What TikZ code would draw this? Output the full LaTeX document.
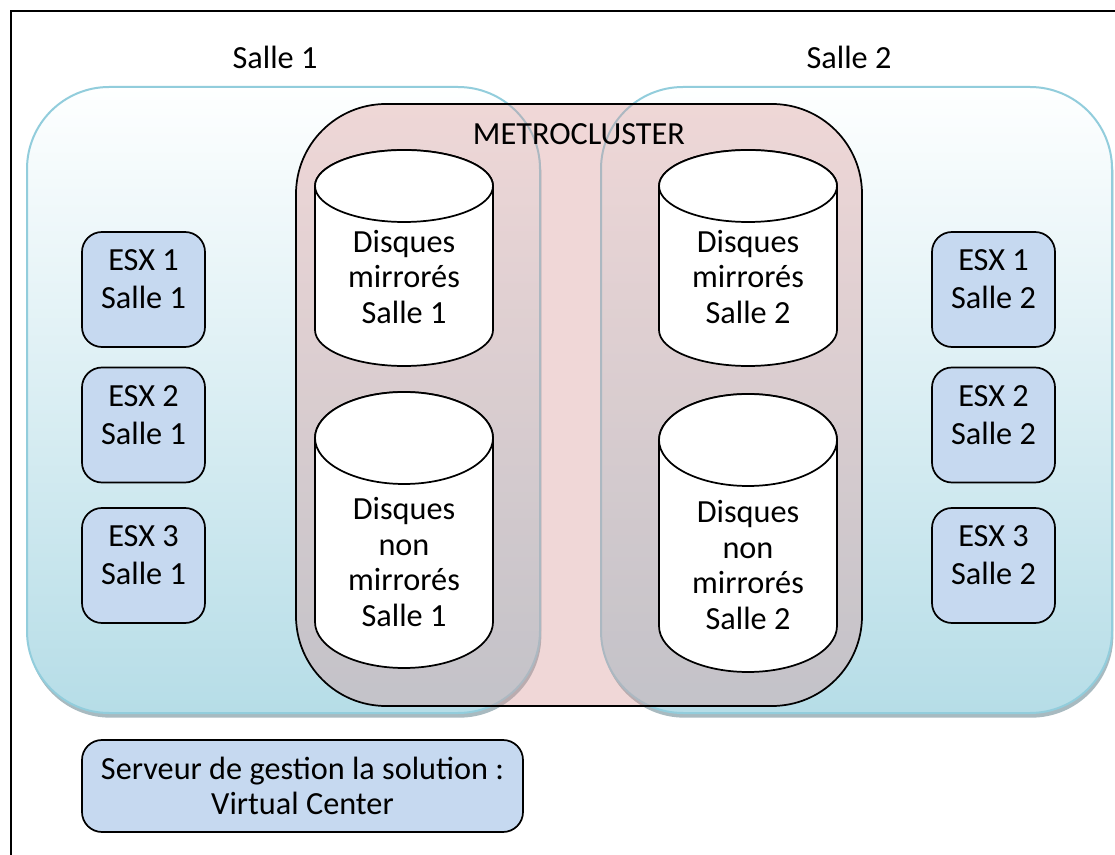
\documentclass[tikz,border=0pt]{standalone}
\usepackage{fontspec}
\setmainfont{Carlito}
\usetikzlibrary{shadows}
\definecolor{salleborder}{RGB}{146,205,220}
\definecolor{salletop}{RGB}{254,255,255}
\definecolor{sallebot}{RGB}{182,221,231}
\definecolor{metrofill}{RGB}{217,149,148}
\definecolor{esxfill}{RGB}{198,217,240}
\definecolor{shadowc}{RGB}{110,140,150}
\begin{document}
\begin{tikzpicture}[x=0.75pt,y=0.75pt,
  txt/.style={font=\fontsize{24.2pt}{26.7pt}\selectfont, align=center, inner sep=0pt},
  esxtxt/.style={font=\fontsize{24.2pt}{28.5pt}\selectfont, align=center, inner sep=0pt},
  salle/.style={draw=salleborder, line width=1.5pt, rounded corners=61.5pt,
    top color=salletop, bottom color=sallebot,
    drop shadow={shadow xshift=1pt, shadow yshift=-3.5pt, fill=shadowc, opacity=0.6}},
  metro/.style={fill=metrofill, fill opacity=0.37, draw=black, draw opacity=1, line width=1.3pt, rounded corners=67.5pt},
  esxbox/.style={draw=black, line width=1.3pt, fill=esxfill, rounded corners=15pt},
  disk/.style={draw=black, line width=1.3pt, fill=white},
  framebox/.style={draw=black, line width=1.5pt}]
\useasboundingbox (0,0) rectangle (1115,-855);
\clip (0,0) rectangle (1115,-855);
\fill[white] (0,0) rectangle (1115,-855);
\draw[framebox] (11,-11) rectangle (1140,-880);

% rooms
\node[salle, minimum width=384.75pt, minimum height=469.5pt] (s1) at (283.5,-400) {};
\node[salle, minimum width=383.25pt, minimum height=469.5pt] (s2) at (856.5,-400) {};
\node[txt] (s1lbl) at (275,-57) {Salle 1};
\node[txt] (s2lbl) at (849,-57) {Salle 2};

% metrocluster
\node[metro, minimum width=424.5pt, minimum height=451.5pt] (mc) at (579,-405) {};
\node[txt] (mclbl) at (579,-134) {METROCLUSTER};

% disks
\draw[disk] (315,-186) -- (315,-330) arc[start angle=180,end angle=360,x radius=89,y radius=36] -- (493,-186) arc[start angle=0,end angle=180,x radius=89,y radius=36] -- cycle;
\draw[disk] (404,-186) ellipse[x radius=89,y radius=36];
\node[txt] (d1) at (404,-277) {Disques\\mirrorés\\Salle 1};

\draw[disk] (659,-186) -- (659,-330) arc[start angle=180,end angle=360,x radius=89,y radius=36] -- (837,-186) arc[start angle=0,end angle=180,x radius=89,y radius=36] -- cycle;
\draw[disk] (748,-186) ellipse[x radius=89,y radius=36];
\node[txt] (d2) at (748,-277) {Disques\\mirrorés\\Salle 2};

\draw[disk] (315,-438) -- (315,-622) arc[start angle=180,end angle=360,x radius=89,y radius=46] -- (493,-438) arc[start angle=0,end angle=180,x radius=89,y radius=46] -- cycle;
\draw[disk] (404,-438) ellipse[x radius=89,y radius=46];
\node[txt] (d3) at (404,-562) {Disques\\non\\mirrorés\\Salle 1};

\draw[disk] (659,-440) -- (659,-626) arc[start angle=180,end angle=360,x radius=89,y radius=46] -- (837,-440) arc[start angle=0,end angle=180,x radius=89,y radius=46] -- cycle;
\draw[disk] (748,-440) ellipse[x radius=89,y radius=46];
\node[txt] (d4) at (748,-565) {Disques\\non\\mirrorés\\Salle 2};

% ESX boxes
\node[esxbox, minimum width=92.25pt, minimum height=86.25pt] (e11) at (143.5,-289.5) {};
\node[esxbox, minimum width=92.25pt, minimum height=86.25pt] (e21) at (143.5,-425) {};
\node[esxbox, minimum width=92.25pt, minimum height=86.25pt] (e31) at (143.5,-565.5) {};
\node[esxbox, minimum width=92.25pt, minimum height=86.25pt] (e12) at (993.5,-289.5) {};
\node[esxbox, minimum width=92.25pt, minimum height=86.25pt] (e22) at (993.5,-425) {};
\node[esxbox, minimum width=92.25pt, minimum height=86.25pt] (e32) at (993.5,-565.5) {};
\node[esxtxt] (t11) at (143.5,-279) {ESX 1\\Salle 1};
\node[esxtxt] (t21) at (143.5,-415) {ESX 2\\Salle 1};
\node[esxtxt] (t31) at (143.5,-555.5) {ESX 3\\Salle 1};
\node[esxtxt] (t12) at (993.5,-279) {ESX 1\\Salle 2};
\node[esxtxt] (t22) at (993.5,-415) {ESX 2\\Salle 2};
\node[esxtxt] (t32) at (993.5,-555.5) {ESX 3\\Salle 2};

% management server
\node[esxbox, minimum width=330.75pt, minimum height=69pt] (vc) at (302.5,-786) {};
\node[txt, font=\fontsize{24.2pt}{26.3pt}\selectfont] (vclbl) at (302.5,-786) {Serveur de gestion la solution :\\Virtual Center};
\end{tikzpicture}
\end{document}
